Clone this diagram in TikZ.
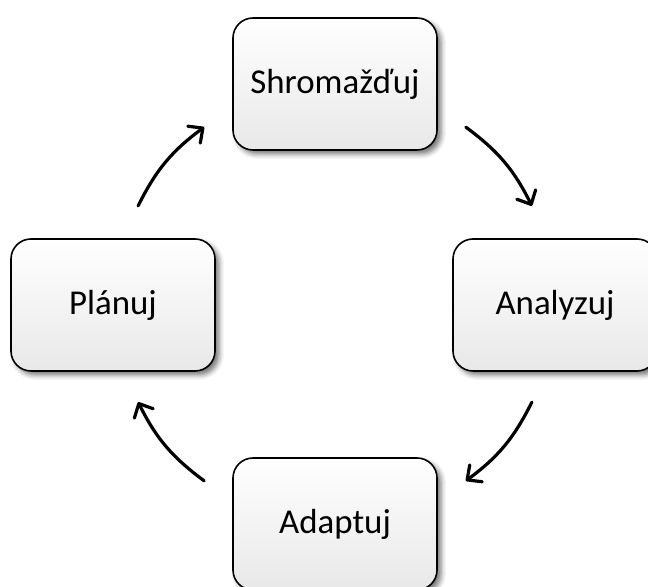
\documentclass[tikz,border=0pt]{standalone}
\usepackage{fontspec}
\setmainfont{Carlito}
\usetikzlibrary{calc,arrows.meta,shadows.blur}

\tikzset{
  stagebox/.style={
    draw=black, line width=1.6bp, rounded corners=20bp,
    minimum width=204bp, minimum height=132bp, inner sep=0pt,
    top color=white, middle color=white, bottom color=black!9,
    blur shadow={shadow xshift=4bp, shadow yshift=-4bp,
                 shadow blur radius=5bp, shadow opacity=55},
    font=\fontsize{35pt}{42pt}\selectfont
  },
  flow/.style={
    line width=3.2bp, line cap=round,
    -{Straight Barb[length=11bp, width=21bp, line cap=round, line join=round]}
  }
}

\begin{document}
\begin{tikzpicture}[x=1bp, y=1bp]
  \useasboundingbox (0,0) rectangle (648,587);

  % the four stages of the cycle
  \node[stagebox] (collect) at (335,503) {Shromažďuj};
  \node[stagebox] (analyse) at (555,282) {Analyzuj};
  \node[stagebox] (adapt)   at (335,63)  {Adaptuj};
  \node[stagebox] (plan)    at (113,282) {Plánuj};

  % centre of the ring on which the arrows lie
  \coordinate (ring) at (335,283);
  \def\ringr{220}

  \coordinate (p1s) at ($(ring)+(153.5:\ringr)$);
  \coordinate (p1e) at ($(ring)+(126.5:\ringr)$);
  \coordinate (p2s) at ($(ring)+(53.5:\ringr)$);
  \coordinate (p2e) at ($(ring)+(26.5:\ringr)$);
  \coordinate (p3s) at ($(ring)+(-26.5:\ringr)$);
  \coordinate (p3e) at ($(ring)+(-53.5:\ringr)$);
  \coordinate (p4s) at ($(ring)+(-126.5:\ringr)$);
  \coordinate (p4e) at ($(ring)+(-153.5:\ringr)$);

  % clockwise arrows between the stages
  \draw[flow] (p1s) to[bend left=13.5] (p1e);
  \draw[flow] (p2s) to[bend left=13.5] (p2e);
  \draw[flow] (p3s) to[bend left=13.5] (p3e);
  \draw[flow] (p4s) to[bend left=13.5] (p4e);
\end{tikzpicture}
\end{document}
